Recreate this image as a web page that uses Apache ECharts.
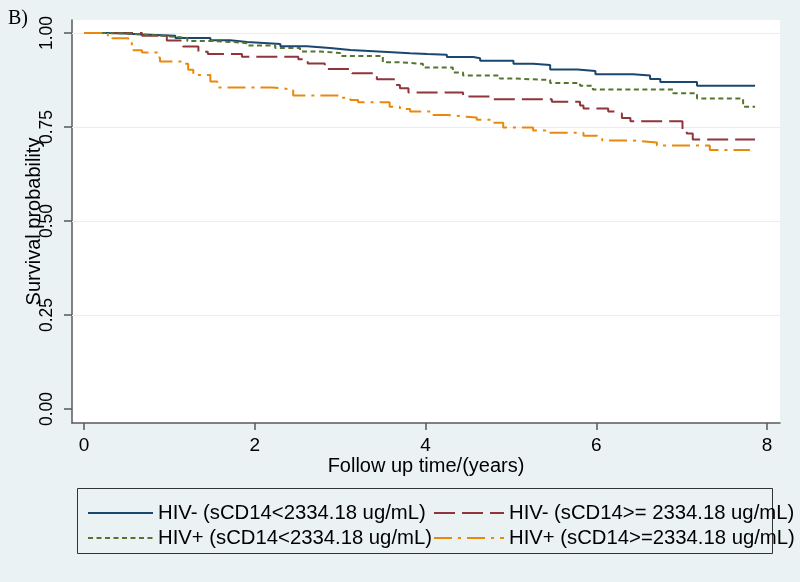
<!DOCTYPE html>
<html>
<head>
<meta charset="utf-8">
<script src="https://cdn.jsdelivr.net/npm/echarts@6/dist/echarts.min.js"></script>
<style>html,body{margin:0;padding:0;background:#EAF2F3;}#c{width:800px;height:582px;}</style>
</head>
<body>
<div id="c"></div>
<script>
const seriesNames = [
  'HIV- (sCD14<2334.18 ug/mL)',
  'HIV- (sCD14>= 2334.18 ug/mL)',
  'HIV+ (sCD14<2334.18 ug/mL)',
  'HIV+ (sCD14>=2334.18 ug/mL)'
];
const xTicks = [0, 2, 4, 6, 8];
const yTicks = [0, 0.25, 0.5, 0.75, 1];

const timeHivNegLow = [0, 0.27, 0.48, 0.69, 1.07, 1.48, 1.71, 1.91, 2.30, 2.61, 2.88, 3.12, 3.50, 3.82, 4.02, 4.25, 4.56, 4.64, 5.03, 5.26, 5.46, 5.78, 5.99, 6.43, 6.63, 6.75, 7.18, 7.86];
const survHivNegLow = [1, 0.999, 0.996, 0.993, 0.987, 0.981, 0.976, 0.971, 0.965, 0.960, 0.955, 0.950, 0.946, 0.944, 0.942, 0.936, 0.933, 0.926, 0.918, 0.915, 0.903, 0.899, 0.890, 0.887, 0.878, 0.870, 0.860, 0.860];

const timeHivNegHigh = [0, 0.68, 0.97, 1.16, 1.34, 1.45, 1.85, 2.51, 2.62, 2.82, 3.14, 3.43, 3.64, 3.70, 3.80, 4.44, 4.76, 5.48, 5.81, 5.85, 6.14, 6.24, 6.30, 6.40, 7.01, 7.06, 7.13, 7.86];
const survHivNegHigh = [1, 0.993, 0.980, 0.964, 0.950, 0.944, 0.937, 0.930, 0.919, 0.904, 0.893, 0.877, 0.862, 0.853, 0.842, 0.831, 0.824, 0.817, 0.807, 0.799, 0.791, 0.786, 0.774, 0.765, 0.744, 0.733, 0.717, 0.717];

const timeHivPosLow = [0, 0.27, 0.48, 0.77, 1.01, 1.21, 1.48, 1.75, 1.91, 2.24, 2.53, 2.76, 3.00, 3.50, 3.70, 3.97, 4.32, 4.44, 4.87, 5.03, 5.46, 5.81, 5.96, 6.90, 7.18, 7.72, 7.86];
const survHivPosLow = [1, 0.999, 0.995, 0.991, 0.987, 0.979, 0.976, 0.973, 0.967, 0.960, 0.951, 0.947, 0.939, 0.922, 0.918, 0.908, 0.895, 0.887, 0.879, 0.875, 0.867, 0.860, 0.850, 0.840, 0.826, 0.804, 0.804];

const timeHivPosHigh = [0, 0.28, 0.33, 0.52, 0.56, 0.68, 0.86, 0.89, 1.15, 1.22, 1.28, 1.48, 1.56, 2.21, 2.45, 3.00, 3.12, 3.21, 3.58, 3.70, 3.82, 4.09, 4.25, 4.40, 4.60, 4.79, 4.91, 5.26, 5.46, 5.85, 6.01, 6.07, 6.43, 6.71, 7.33, 7.80];
const survHivPosHigh = [1, 0.993, 0.986, 0.979, 0.954, 0.948, 0.935, 0.924, 0.918, 0.902, 0.888, 0.871, 0.855, 0.850, 0.834, 0.828, 0.822, 0.816, 0.804, 0.798, 0.791, 0.782, 0.779, 0.775, 0.769, 0.761, 0.749, 0.741, 0.735, 0.727, 0.723, 0.714, 0.709, 0.701, 0.689, 0.689];

function pairs(t, s) { return t.map((v, i) => [v, s[i]]); }

const colors = ['#1A476F', '#90353B', '#55752F', '#E8890C'];
const dashes = ['solid', [21, 7], [5, 3.5], [18, 6, 3, 6]];
const dataSets = [
  pairs(timeHivNegLow, survHivNegLow),
  pairs(timeHivNegHigh, survHivNegHigh),
  pairs(timeHivPosLow, survHivPosLow),
  pairs(timeHivPosHigh, survHivPosHigh)
];

const font = '"Liberation Sans", Arial, sans-serif';
const axisColor = '#5a5a5a';

const series = dataSets.map((d, i) => ({
  name: seriesNames[i],
  type: 'line',
  step: 'end',
  data: d,
  showSymbol: false,
  symbol: 'none',
  z: 3,
  lineStyle: { color: colors[i], width: 2, type: dashes[i] },
  itemStyle: { color: colors[i] },
  silent: true
}));
series.unshift({
  name: 'grid',
  type: 'line',
  data: [],
  silent: true,
  z: 1,
  markLine: {
    silent: true,
    symbol: 'none',
    z: 1,
    label: { show: false },
    lineStyle: { color: '#E6EEF0', width: 1, type: 'solid' },
    data: yTicks.filter(v => v > 0).map(v => ({ yAxis: v }))
  }
});

const legendPos = [[87, 503, 65], [433, 503, 70], [87, 528, 65], [433, 528, 70]];
const legends = seriesNames.map((n, i) => ({
  data: [n],
  left: legendPos[i][0],
  top: legendPos[i][1],
  orient: 'horizontal',
  padding: 0,
  itemWidth: legendPos[i][2],
  itemHeight: 20,
  selectedMode: false,
  itemStyle: { opacity: 0 },
  lineStyle: { width: 2 },
  textStyle: { fontFamily: font, fontSize: 20.3, color: '#000' }
}));

const chart = echarts.init(document.getElementById('c'), null, { renderer: 'canvas' });
chart.setOption({
  animation: false,
  backgroundColor: '#EAF2F3',
  grid: { left: 72, right: 20, top: 20, bottom: 159, show: true, backgroundColor: '#ffffff', borderWidth: 0, containLabel: false },
  legend: legends,
  xAxis: {
    type: 'value',
    min: -0.1406, max: 8.152,
    name: 'Follow up time/(years)',
    nameLocation: 'middle',
    nameGap: 33,
    nameMoveOverlap: false,
    nameTextStyle: { fontFamily: font, fontSize: 20, color: '#000' },
    axisLine: { show: true, onZero: false, lineStyle: { color: axisColor, width: 1.5 } },
    axisTick: { show: true, length: 7, customValues: xTicks, lineStyle: { color: axisColor, width: 1.5 } },
    axisLabel: { customValues: xTicks, margin: 13, fontFamily: font, fontSize: 19, color: '#000', formatter: v => String(v) },
    splitLine: { show: false }
  },
  yAxis: {
    type: 'value',
    min: -0.0372, max: 1.0346,
    name: 'Survival probability',
    nameLocation: 'middle',
    nameRotate: 90,
    nameGap: 28,
    nameMoveOverlap: false,
    nameTextStyle: { fontFamily: font, fontSize: 20, color: '#000' },
    axisLine: { show: true, onZero: false, lineStyle: { color: axisColor, width: 1.5 } },
    axisTick: { show: true, length: 8, customValues: yTicks, lineStyle: { color: axisColor, width: 1.5 } },
    axisLabel: { customValues: yTicks, rotate: 90, margin: 16, fontFamily: font, fontSize: 17.5, color: '#000', formatter: v => v.toFixed(2) },
    splitLine: { show: false }
  },
  graphic: [
    { type: 'text', left: 8, top: 9, style: { text: 'B)', fontFamily: '"Liberation Serif", "Times New Roman", serif', fontSize: 20, fill: '#000' } },
    { type: 'rect', shape: { x: 77.5, y: 488.5, width: 695, height: 65 }, style: { fill: 'none', stroke: '#333', lineWidth: 1 }, silent: true }
  ],
  series: series
});
</script>
</body>
</html>
